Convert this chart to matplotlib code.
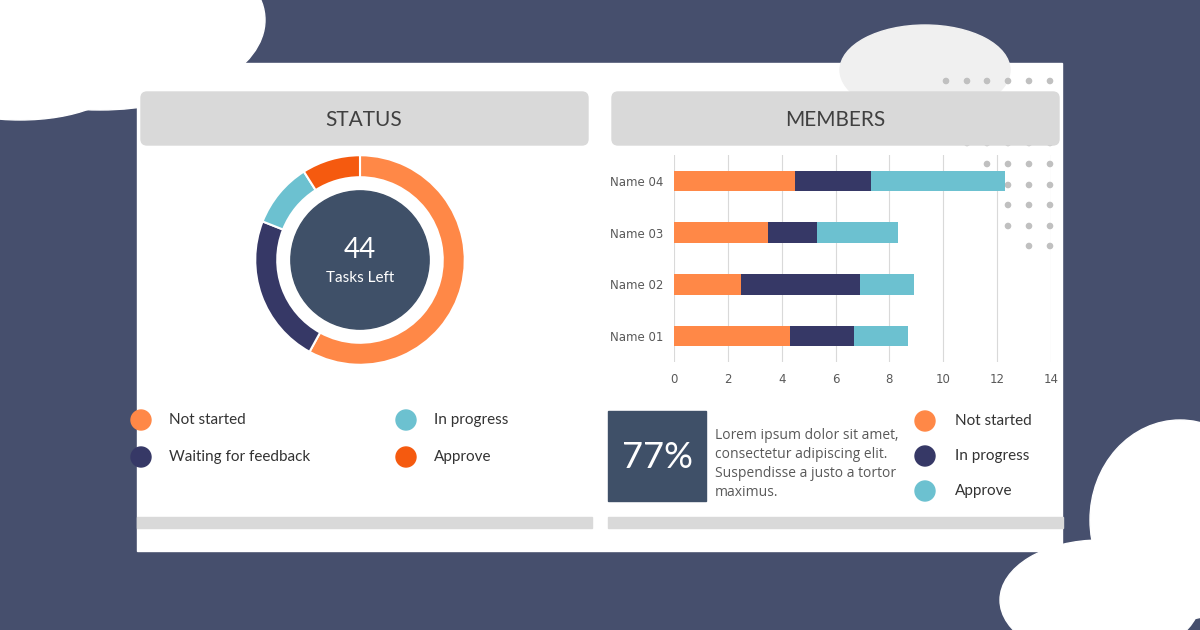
import matplotlib
matplotlib.use("Agg")
import matplotlib.pyplot as plt
from matplotlib.patches import Rectangle, Circle, FancyBboxPatch, Ellipse

status_labels = ["Not started", "Waiting for feedback", "In progress", "Approve"]
status_values = [58, 23, 10, 9]
tasks_left = 44

members = ["Name 01", "Name 02", "Name 03", "Name 04"]
not_started = [4.3, 2.5, 3.5, 4.5]
in_progress = [2.4, 4.4, 1.8, 2.8]
approve = [2.0, 2.0, 3.0, 5.0]
xticks = [0, 2, 4, 6, 8, 10, 12, 14]
member_legend = ["Not started", "In progress", "Approve"]

ORANGE, NAVY, LBLUE, RED = "#ff8847", "#363866", "#6cc1d0", "#f55a0f"
DARK = "#3f5068"
BG = "#464f6d"
W, H = 1200, 630
FONT = "Lato"

fig = plt.figure(figsize=(12, 6.3), dpi=100, facecolor=BG)
ov = fig.add_axes([0, 0, 1, 1])
ov.set_xlim(0, W); ov.set_ylim(H, 0); ov.axis("off")

# white blobs
ov.add_patch(Ellipse((100, 20), 330, 180, color="white", zorder=1))
ov.add_patch(Ellipse((20, 80), 200, 80, color="white", zorder=1))
ov.add_patch(Ellipse((1180, 520), 180, 200, color="white", zorder=1))
ov.add_patch(Ellipse((1100, 600), 200, 120, color="white", zorder=1))
# white panel
ov.add_patch(Rectangle((137, 63), 925, 488, color="white", zorder=2))
ov.add_patch(Ellipse((925, 70), 170, 90, color="#f0f0f0", zorder=2))
# dots
for r, y in enumerate([81, 101, 122, 143, 164, 185, 205, 226, 246]):
    for x in [946, 967, 987, 1008, 1029, 1050]:
        if (r < 3 and x >= 946) or (r >= 3 and x >= 967 + 20 * (r - 3) // 2):
            ov.add_patch(Circle((x, y), 2.6, color="#c0c0c0", zorder=3))

def pbox(px, py, pw, ph):
    return [px / W, 1 - (py + ph) / H, pw / W, ph / H]

# headers and footers
for x0, title in [(137, "STATUS"), (608, "MEMBERS")]:
    ov.add_patch(FancyBboxPatch((x0 + 4, 92), 447, 53, boxstyle="round,pad=0,rounding_size=6",
                                color="#d9d9d9", zorder=4))
    ov.text(x0 + 227, 120, title, ha="center", va="center", fontsize=15, color="#404040",
            family=FONT, zorder=5)
    ov.add_patch(Rectangle((x0, 517), 455, 11, color="#d9d9d9", zorder=4))

# donut
dax = fig.add_axes(pbox(250, 150, 220, 220))
dax.pie(status_values, colors=[ORANGE, NAVY, LBLUE, RED], startangle=90, counterclock=False,
        radius=1.0, wedgeprops=dict(width=0.21, edgecolor="white", linewidth=1.5))
dax.add_patch(Circle((0, 0), 0.66, color=DARK))
dax.text(0, 0.1, str(tasks_left), ha="center", va="center", fontsize=20, color="white", family=FONT)
dax.text(0, -0.17, "Tasks Left", ha="center", va="center", fontsize=11, color="white", family=FONT)
dax.set_xlim(-1.05, 1.05); dax.set_ylim(-1.05, 1.05); dax.set_aspect("equal")

# status legend
cols = [ORANGE, NAVY, LBLUE, RED]
pos = [(141, 420), (141, 457), (406, 420), (406, 457)]
for (x, y), c, lab in zip(pos, cols, status_labels):
    ov.add_patch(Circle((x, y), 10, color=c, zorder=5))
    ov.text(x + 28, y, lab, va="center", fontsize=11, color="#333333", family=FONT, zorder=5)

# bar chart
bax = fig.add_axes(pbox(674, 155, 377, 207))
ys = range(len(members))
left2 = [a + b for a, b in zip(not_started, in_progress)]
bax.barh(ys, not_started, color=ORANGE, height=0.4, zorder=3)
bax.barh(ys, in_progress, left=not_started, color=NAVY, height=0.4, zorder=3)
bax.barh(ys, approve, left=left2, color=LBLUE, height=0.4, zorder=3)
bax.set_xlim(0, 14); bax.set_ylim(-0.5, 3.5)
bax.set_xticks(xticks)
bax.set_yticks(list(ys)); bax.set_yticklabels(members)
bax.grid(axis="x", color="#d9d9d9", linewidth=0.8, zorder=0)
for s in bax.spines.values():
    s.set_visible(False)
bax.tick_params(length=0, labelsize=8.5, labelcolor="#595959", pad=8)
bax.set_facecolor("none")

# 77% box
ov.add_patch(Rectangle((608, 411), 98, 90, color=DARK, zorder=5))
ov.text(657, 457, "77%", ha="center", va="center", fontsize=26, color="white", family=FONT, zorder=6)
ov.text(715, 428, "Lorem ipsum dolor sit amet,\nconsectetur adipiscing elit.\nSuspendisse a justo a tortor\nmaximus.",
        va="top", ha="left", fontsize=10, color="#595959", family="Open Sans", linespacing=1.35, zorder=6)
for y, c, lab in zip([421, 456, 491], [ORANGE, NAVY, LBLUE], member_legend):
    ov.add_patch(Circle((925, y), 10, color=c, zorder=5))
    ov.text(955, y, lab, va="center", fontsize=11, color="#333333", family=FONT, zorder=5)

fig.savefig("out.png", dpi=100, facecolor=BG)
